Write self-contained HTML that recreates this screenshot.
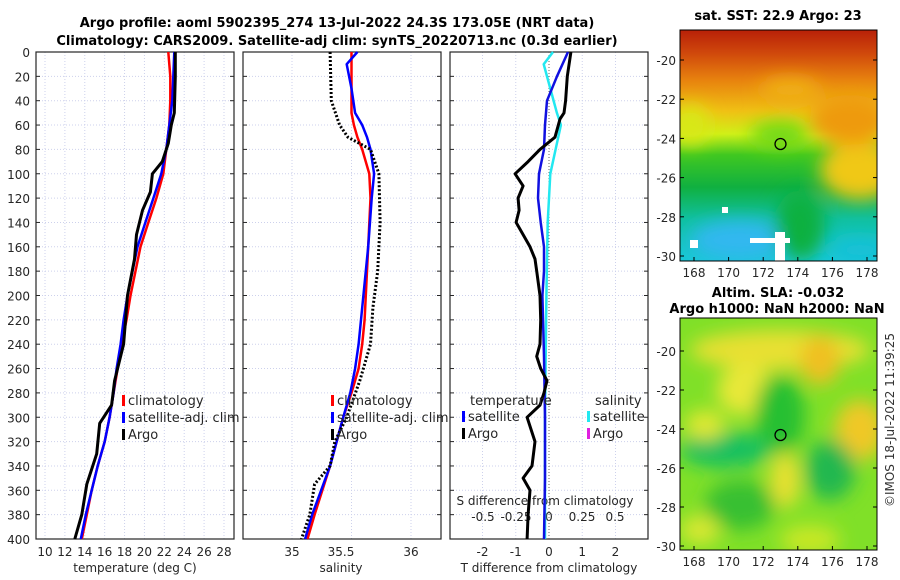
<!DOCTYPE html>
<html><head><meta charset="utf-8"><style>
body{margin:0;background:#fff}
svg{display:block;font-family:"DejaVu Sans","Liberation Sans",sans-serif}
</style></head><body>
<svg id="fig" width="900" height="580" viewBox="0 0 900 580" xmlns="http://www.w3.org/2000/svg">
<defs>
<linearGradient id="sstg" x1="0" y1="0" x2="0" y2="1">
<stop offset="0" stop-color="#b82008"/><stop offset="0.1" stop-color="#d0480c"/><stop offset="0.22" stop-color="#e8840e"/><stop offset="0.35" stop-color="#f0c014"/><stop offset="0.45" stop-color="#d0f018"/><stop offset="0.54" stop-color="#40c820"/><stop offset="0.68" stop-color="#10b040"/><stop offset="0.82" stop-color="#10c0a0"/><stop offset="1" stop-color="#18c8d8"/>
</linearGradient>
<filter id="bl" x="-50%" y="-50%" width="200%" height="200%"><feGaussianBlur stdDeviation="9"/></filter>
<clipPath id="c1"><rect x="680" y="30" width="197" height="231"/></clipPath>
<clipPath id="c2"><rect x="680" y="318" width="197" height="232"/></clipPath>
</defs>
<g font-weight="bold" font-size="13" text-anchor="middle" fill="#000">
<text x="337" y="27">Argo profile: aoml 5902395_274 13-Jul-2022 24.3S 173.05E (NRT data)</text>
<text x="337" y="45">Climatology: CARS2009. Satellite-adj clim: synTS_20220713.nc (0.3d earlier)</text>
</g>
<g id="p1"></g>
<g id="p2"></g>
<g id="p3"></g>

<g>
<g clip-path="url(#c1)">
<rect x="680" y="30" width="197" height="231" fill="url(#sstg)"/>
<g filter="url(#bl)">
<ellipse cx="860" cy="170" rx="40" ry="30" fill="#f0c818"/>
<ellipse cx="850" cy="120" rx="40" ry="25" fill="#ee9a10"/>
<ellipse cx="690" cy="125" rx="20" ry="20" fill="#d8e818"/>
<ellipse cx="780" cy="135" rx="30" ry="14" fill="#70d818"/>
<ellipse cx="740" cy="240" rx="50" ry="20" fill="#30b8f0"/>
<ellipse cx="800" cy="225" rx="25" ry="35" fill="#10b040"/>
<ellipse cx="860" cy="250" rx="30" ry="12" fill="#18c0d8"/>
<ellipse cx="790" cy="90" rx="30" ry="12" fill="#f0b018"/>
</g>
<rect x="722" y="207" width="6" height="6" fill="#fff"/><rect x="690" y="240" width="8" height="8" fill="#fff"/>
<rect x="750" y="238" width="40" height="5" fill="#fff"/><rect x="775" y="232" width="10" height="29" fill="#fff"/>
</g>
<rect x="680" y="30" width="197" height="231" fill="none" stroke="#000"/>
<circle cx="780.5" cy="144" r="5.5" fill="none" stroke="#000" stroke-width="1.3"/>
<text x="778" y="20" font-size="13" font-weight="bold" text-anchor="middle">sat. SST: 22.9 Argo: 23</text>
<g id="m1ticks"></g>
</g>

<g>
<g clip-path="url(#c2)">
<rect x="680" y="318" width="197" height="232" fill="#80e028"/>
<g filter="url(#bl)">
<ellipse cx="780" cy="350" rx="90" ry="20" fill="#e8e030"/>
<ellipse cx="820" cy="360" rx="20" ry="25" fill="#f0c020"/>
<ellipse cx="745" cy="390" rx="28" ry="25" fill="#e8e838"/>
<ellipse cx="860" cy="430" rx="25" ry="30" fill="#f0c828"/>
<ellipse cx="780" cy="415" rx="25" ry="40" fill="#28c030"/>
<ellipse cx="725" cy="450" rx="45" ry="18" fill="#18c060"/>
<ellipse cx="705" cy="425" rx="20" ry="15" fill="#e0e830"/>
<ellipse cx="785" cy="480" rx="15" ry="28" fill="#e8e030"/>
<ellipse cx="830" cy="470" rx="25" ry="30" fill="#20b850"/>
<ellipse cx="740" cy="505" rx="35" ry="25" fill="#38c030"/>
<ellipse cx="700" cy="530" rx="20" ry="15" fill="#d8e830"/>
<ellipse cx="810" cy="540" rx="30" ry="15" fill="#c8e828"/>
</g>
</g>
<rect x="680" y="318" width="197" height="232" fill="none" stroke="#000"/>
<circle cx="780.5" cy="435" r="5.5" fill="none" stroke="#000" stroke-width="1.3"/>
<text x="778" y="297" font-size="13" font-weight="bold" text-anchor="middle">Altim. SLA: -0.032</text>
<text x="777" y="313" font-size="13" font-weight="bold" text-anchor="middle">Argo h1000: NaN h2000: NaN</text>
<g id="m2ticks"></g>
</g>
<text transform="translate(894,420) rotate(-90)" font-size="12" fill="#333" text-anchor="middle">©IMOS 18-Jul-2022 11:39:25</text>
</svg>
<script>
// ---- data ----
const climDepth=[0,20,40,60,80,100,120,140,160,180,200,220,240,260,280,300,320,340,360,380,400];
const climT=[22.4,22.6,22.6,22.5,22.2,21.9,21.2,20.4,19.6,19.1,18.6,18.2,17.7,17.3,16.9,16.5,16.0,15.3,14.7,14.2,13.7];
const satT=[23.0,22.9,22.8,22.5,22.2,21.7,20.9,20.1,19.3,18.8,18.3,17.9,17.6,17.2,16.9,16.5,16.0,15.3,14.7,14.1,13.6];
const argoTDepth=[0,20,50,60,75,90,100,115,130,150,170,200,240,270,290,305,330,355,380,400];
const argoT=[23.1,23.1,23.0,22.7,22.4,21.8,20.8,20.6,19.8,19.2,19.0,18.3,17.9,17.0,16.7,15.5,15.2,14.2,13.7,13.0];
const salDepth=[0,10,30,50,60,70,80,100,120,160,200,220,240,260,280,300,340,380,400];
const climS=[35.50,35.50,35.50,35.50,35.52,35.55,35.59,35.65,35.66,35.64,35.62,35.61,35.59,35.56,35.50,35.43,35.32,35.19,35.13];
const satS=[35.55,35.46,35.50,35.53,35.59,35.63,35.66,35.69,35.67,35.64,35.60,35.58,35.56,35.53,35.49,35.43,35.32,35.17,35.11];
const argoSDepth=[0,40,60,70,80,100,140,180,210,240,270,300,320,340,355,380,400];
const argoS=[35.32,35.33,35.40,35.47,35.66,35.73,35.74,35.72,35.68,35.66,35.57,35.46,35.36,35.32,35.19,35.15,35.08];
const dTDepth=[0,20,40,60,80,100,120,140,160,180,200,250,300,350,400];
const satDT=[0.57,0.24,-0.06,-0.12,-0.15,-0.30,-0.33,-0.25,-0.15,-0.15,-0.2,-0.15,-0.12,-0.12,-0.15];
const argoDTDepth=[0,20,40,50,55,70,80,90,100,110,120,130,140,150,160,170,180,200,220,240,250,260,270,280,290,300,320,340,350,360,380,400];
const argoDT=[0.66,0.55,0.5,0.45,0.33,0.18,-0.27,-0.63,-1.02,-0.78,-0.93,-0.9,-0.99,-0.78,-0.57,-0.42,-0.37,-0.27,-0.25,-0.27,-0.37,-0.25,-0.06,-0.15,-0.27,-0.66,-0.42,-0.51,-0.78,-0.57,-0.63,-0.66];
const dSDepth=[0,10,30,50,60,80,100,140,200,300,400];
const satDS=[0.03,-0.04,0.01,0.06,0.09,0.05,0.01,-0.01,-0.02,-0.03,-0.03];
const depthTicks=[0,20,40,60,80,100,120,140,160,180,200,220,240,260,280,300,320,340,360,380,400];
const tTicks=[10,12,14,16,18,20,22,24,26,28];
const sTicks=[35,35.5,36];
const dtTicks=[-2,-1,0,1,2];
const dsTicks=[-0.5,-0.25,0,0.25,0.5];
const latTicks=[-20,-22,-24,-26,-28,-30];
const lonTicks=[168,170,172,174,176,178];
// ---- scales ----
const Y0=52,Y1=539;
const yD=d=>Y0+d*(Y1-Y0)/400;
const xT=t=>45+(t-10)*9.944;
const xS=s=>292+(s-35)*119;
const xDT=t=>549+t*33.25;
const xDS=s=>549+s*132;
const NS='http://www.w3.org/2000/svg';
function mk(parent,tag,attrs){const e=document.createElementNS(NS,tag);for(const k in attrs)e.setAttribute(k,attrs[k]);parent.appendChild(e);return e;}
function txt(parent,x,y,s,anchor,size){const t=mk(parent,'text',{x:x,y:y,'text-anchor':anchor||'middle','font-size':size||12,fill:'#262626'});t.textContent=s;return t;}
function line(parent,xs,ds,fx,color,w,dash){let d='';xs.forEach((v,i)=>{d+=(i?'L':'M')+fx(v).toFixed(1)+','+yD(ds[i]).toFixed(1);});const a={d:d,fill:'none',stroke:color,'stroke-width':w,'stroke-linejoin':'round'};if(dash)a['stroke-dasharray']=dash;return mk(parent,'path',a);}
function frame(g,x0,x1,vgrid,fx){
  depthTicks.forEach(d=>{mk(g,'line',{x1:x0,x2:x1,y1:yD(d),y2:yD(d),stroke:'#cdd1ec','stroke-width':1,'stroke-dasharray':'1,2'});});
  vgrid.forEach(v=>{mk(g,'line',{x1:fx(v),x2:fx(v),y1:Y0,y2:Y1,stroke:'#cdd1ec','stroke-width':1,'stroke-dasharray':'1,2'});});
  mk(g,'rect',{x:x0,y:Y0,width:x1-x0,height:Y1-Y0,fill:'none',stroke:'#262626','stroke-width':1.2});
  depthTicks.forEach(d=>{mk(g,'line',{x1:x0,x2:x0+4,y1:yD(d),y2:yD(d),stroke:'#262626'});mk(g,'line',{x1:x1-4,x2:x1,y1:yD(d),y2:yD(d),stroke:'#262626'});});
}
// panel 1
const p1=document.getElementById('p1');
frame(p1,36,234,tTicks,xT);
depthTicks.forEach(d=>{const t=txt(p1,30,yD(d)+5,String(d),'end');});
tTicks.forEach(v=>{const t=txt(p1,xT(v),556,String(v));});
const at=txt(p1,135,572,'temperature (deg C)');
let e;
e=line(p1,climT,climDepth,xT,'#ff0000',2.5);
e=line(p1,satT,climDepth,xT,'#0000ff',2.5);
e=line(p1,argoT,argoTDepth,xT,'#000',3);
function legend(g,x,y,items){items.forEach((it,i)=>{mk(g,'rect',{x:x,y:y+i*17-11,width:3,height:11,fill:it[1]});const t=txt(g,x+6,y+i*17-1,it[0],'start',13);});}
legend(p1,122,406,[['climatology','#ff0000'],['satellite-adj. clim','#0000ff'],['Argo','#000']]);
// panel 2
const p2=document.getElementById('p2');
frame(p2,243,441,sTicks,xS);
sTicks.forEach(v=>{const t=txt(p2,v===35.5?341:xS(v),556,String(v));});
const as=txt(p2,341,572,'salinity');
e=line(p2,climS,salDepth,xS,'#ff0000',2.5);
e=line(p2,satS,salDepth,xS,'#0000ff',2.5);
e=line(p2,argoS,argoSDepth,xS,'#000',3,'2,2');
legend(p2,331,406,[['climatology','#ff0000'],['satellite-adj. clim','#0000ff'],['Argo','#000']]);
// panel 3
const p3=document.getElementById('p3');
frame(p3,450,648,dtTicks,xDT);
dtTicks.forEach(v=>{const t=txt(p3,xDT(v),556,String(v));});
const a3=txt(p3,549,572,'T difference from climatology');
const a4=txt(p3,545,505,'S difference from climatology');
dsTicks.forEach(v=>{const t=txt(p3,xDS(v),521,String(v));});
mk(p3,'line',{x1:549,x2:549,y1:Y0,y2:Y1,stroke:'#666','stroke-width':1,'stroke-dasharray':'1,2'});
e=line(p3,satDS,dSDepth,xDS,'#22e8f0',2.5);
e=line(p3,satDT,dTDepth,xDT,'#1010e0',2.5);
e=line(p3,argoDT,argoDTDepth,xDT,'#000',3);
const lt=txt(p3,470,405,'temperature','start',13);
const ls=txt(p3,595,405,'salinity','start',13);
legend(p3,462,422,[['satellite','#0000ff'],['Argo','#000']]);
legend(p3,587,422,[['satellite','#22e8f0'],['Argo','#e020e0']]);
// map ticks
function mapTicks(id,y0,y1,lat20,lat30){
  const g=document.getElementById(id);
  const fy=l=>lat20+(l+20)/(-10)*(lat30-lat20);
  const fx=l=>694+(l-168)*17.3;
  latTicks.forEach(l=>{const y=fy(l);mk(g,'line',{x1:680,x2:684,y1:y,y2:y,stroke:'#000'});mk(g,'line',{x1:873,x2:877,y1:y,y2:y,stroke:'#000'});const t=txt(g,676,y+5,String(l),'end');});
  lonTicks.forEach(l=>{const x=fx(l);mk(g,'line',{x1:x,x2:x,y1:y1-4,y2:y1,stroke:'#000'});const t=txt(g,x,y1+16,String(l));});
}
mapTicks('m1ticks',30,261,60,256);
mapTicks('m2ticks',318,550,351,546);
</script>
</body></html>
